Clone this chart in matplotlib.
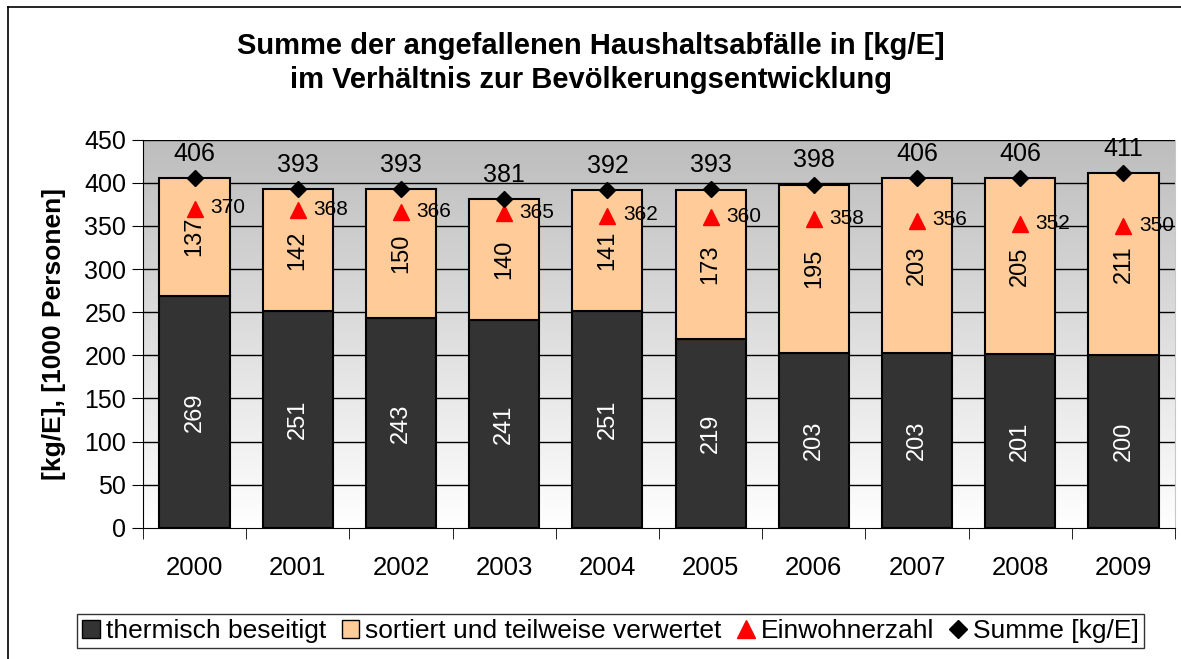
import numpy as np
import matplotlib
matplotlib.use("Agg")
import matplotlib.pyplot as plt
from matplotlib.patches import Rectangle
from matplotlib.lines import Line2D

years = ["2000", "2001", "2002", "2003", "2004", "2005", "2006", "2007", "2008", "2009"]
thermisch = [269, 251, 243, 241, 251, 219, 203, 203, 201, 200]
sortiert = [137, 142, 150, 140, 141, 173, 195, 203, 205, 211]
einwohner = [370, 368, 366, 365, 362, 360, 358, 356, 352, 350]
summe = [406, 393, 393, 381, 392, 393, 398, 406, 406, 411]

plt.rcParams['font.family'] = ['Liberation Sans', 'DejaVu Sans']

fig = plt.figure(figsize=(11.81, 6.59), dpi=100)
# outer frame (left and top edges visible)
fig.lines.append(Line2D([0.0064, 0.0064], [0, 0.9895], transform=fig.transFigure,
                        color='black', lw=1.2))
fig.lines.append(Line2D([0.0064, 1], [0.9895, 0.9895], transform=fig.transFigure,
                        color='black', lw=1.2))

ax = fig.add_axes([0.121, 0.199, 0.874, 0.589])
x = np.arange(len(years))
ax.set_xlim(-0.5, len(years) - 0.5)
ax.set_ylim(0, 450)

# gradient background: white at bottom, grey at top
grad = np.linspace(0, 1, 256).reshape(-1, 1)
cmap = matplotlib.colors.LinearSegmentedColormap.from_list('g', ['#ffffff', '#bdbdbd'])
ax.imshow(grad, extent=[-0.5, len(years) - 0.5, 0, 450], aspect='auto',
          cmap=cmap, origin='lower', zorder=0)

for yv in range(50, 451, 50):
    ax.axhline(yv, color='black', lw=1.0, zorder=1)

w = 0.68
ax.bar(x, thermisch, w, color='#333333', edgecolor='black', lw=1.5, zorder=2)
ax.bar(x, sortiert, w, bottom=thermisch, color='#ffcc99', edgecolor='black', lw=1.5, zorder=2)

ax.plot(x, einwohner, linestyle='none', marker='^', color='red', ms=12, zorder=3)
ax.plot(x, summe, linestyle='none', marker='D', color='black', ms=8, zorder=3)

for i in range(len(years)):
    ax.text(x[i], thermisch[i] / 2, str(thermisch[i]), rotation=90, color='white',
            ha='center', va='center', fontsize=17, zorder=4)
    ax.text(x[i], thermisch[i] + sortiert[i] / 2, str(sortiert[i]), rotation=90,
            color='black', ha='center', va='center', fontsize=17, zorder=4)
    ax.text(x[i] + 0.15, einwohner[i] + 1, str(einwohner[i]), ha='left', va='center',
            fontsize=15, zorder=4)
    ax.text(x[i], summe[i] + 28, str(summe[i]), ha='center', va='center',
            fontsize=18, zorder=4)

ax.set_yticks(range(0, 451, 50))
ax.set_xticks(x)
ax.set_xticklabels(years)
ax.set_xticks(np.arange(-0.5, len(years), 1), minor=True)
ax.tick_params(axis='x', which='major', length=0, pad=20, labelsize=18.5)
ax.tick_params(axis='x', which='minor', length=8, direction='out', color='black')
ax.tick_params(axis='y', length=8, direction='out', labelsize=18, pad=4)
ax.spines['top'].set_visible(False)
ax.spines['right'].set_color('#c8c8c8')
ax.spines['left'].set_color('black')
ax.spines['bottom'].set_color('black')

ax.set_ylabel('[kg/E], [1000 Personen]', fontsize=19, fontweight='bold')
ax.yaxis.set_label_coords(-0.0745, 0.5)

fig.text(0.5, 0.904, 'Summe der angefallenen Haushaltsabfälle in [kg/E]\nim Verhältnis zur Bevölkerungsentwicklung',
         ha='center', va='center', fontsize=21, fontweight='bold', linespacing=1.27)

handles = [
    Rectangle((0, 0), 1, 1, fc='#333333', ec='black'),
    Rectangle((0, 0), 1, 1, fc='#ffcc99', ec='black'),
    Line2D([], [], linestyle='none', marker='^', color='red', ms=13),
    Line2D([], [], linestyle='none', marker='D', color='black', ms=9),
]
labels = ['thermisch beseitigt', 'sortiert und teilweise verwertet', 'Einwohnerzahl', 'Summe [kg/E]']
leg = fig.legend(handles, labels, loc='center', bbox_to_anchor=(0.517, 0.0425), ncol=4,
                 fontsize=19, frameon=True, fancybox=False, edgecolor='black',
                 handlelength=0.65, handleheight=0.65, handletextpad=0.23, columnspacing=0.6,
                 borderpad=0.2, borderaxespad=0)
leg.get_frame().set_linewidth(1.0)

fig.savefig('out.png', dpi=100)
